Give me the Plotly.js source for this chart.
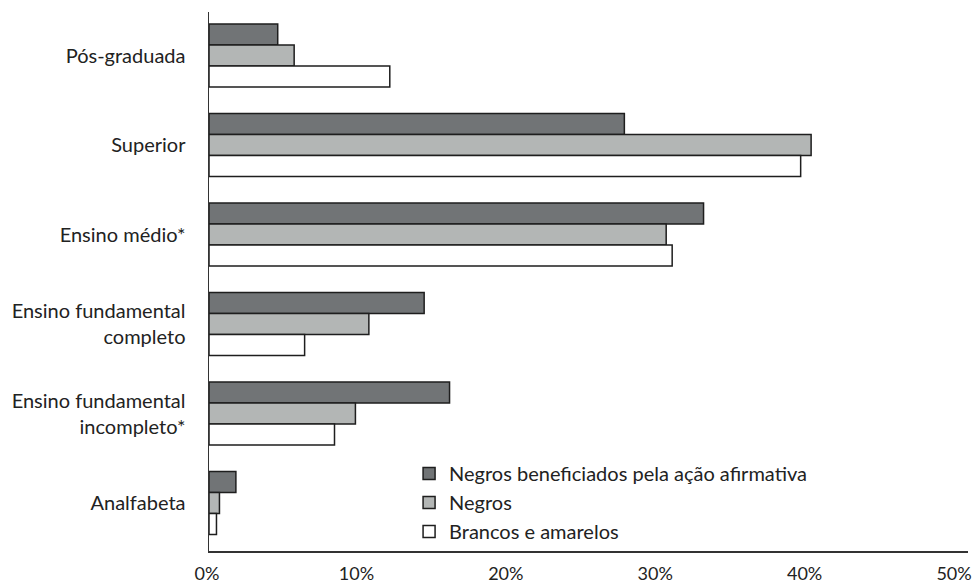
<!DOCTYPE html>
<html>
<head>
<meta charset="utf-8">
<script src="https://cdn.plot.ly/plotly-3.0.1.min.js"></script>
<style>html,body{margin:0;padding:0;background:#fff;}#chart{width:974px;height:586px;}</style>
</head>
<body>
<div id="chart"></div>
<script>
var categories = ["Pós-graduada", "Superior", "Ensino médio*", "Ensino fundamental<br>completo", "Ensino fundamental<br>incompleto*", "Analfabeta"];
var seriesNames = ["Negros beneficiados pela ação afirmativa", "Negros", "Brancos e amarelos"];
var negrosBeneficiados = [4.6, 27.8, 33.1, 14.4, 16.1, 1.8];
var negros = [5.7, 40.3, 30.6, 10.7, 9.8, 0.7];
var brancosAmarelos = [12.1, 39.6, 31.0, 6.4, 8.4, 0.5];
var tickValues = [0, 10, 20, 30, 40, 50];
var tickLabels = ["0%", "10%", "20%", "30%", "40%", "50%"];

var fills = ["#717476", "#b3b6b5", "#ffffff"];
var data = [negrosBeneficiados, negros, brancosAmarelos].map(function (vals, i) {
  return {
    type: "bar",
    orientation: "h",
    name: seriesNames[i],
    x: vals,
    y: categories,
    marker: { color: fills[i], line: { color: "#1e1e1e", width: 1.5 } },
    hoverinfo: "x+y"
  };
});

var font = "Lato, 'Open Sans', sans-serif";
var layout = {
  width: 974,
  height: 586,
  margin: { l: 209, r: 6, t: 12, b: 35 },
  paper_bgcolor: "#fff",
  plot_bgcolor: "#fff",
  barmode: "group",
  bargap: 0.296,
  bargroupgap: 0,
  font: { family: font, size: 20, color: "#222" },
  showlegend: true,
  legend: {
    x: 0.2636, y: 0.18, xanchor: "left", yanchor: "top",
    traceorder: "normal",
    font: { family: font, size: 20, color: "#222" },
    itemwidth: 30,
    tracegroupgap: 0,
    bgcolor: "rgba(0,0,0,0)"
  },
  xaxis: {
    range: [0, 50.8],
    tickvals: tickValues,
    ticktext: tickLabels,
    showgrid: false,
    zeroline: false,
    showline: true,
    linecolor: "#333",
    linewidth: 1.5,
    ticks: "",
    ticklabelstandoff: 6,
    ticklabeloverflow: "allow",
    ticklabelshift: -2,
    tickfont: { family: font, size: 18, color: "#222" },
    fixedrange: true
  },
  yaxis: {
    type: "category",
    range: [5.536, -0.486],
    showgrid: false,
    zeroline: false,
    showline: true,
    linecolor: "#333",
    linewidth: 1.5,
    ticks: "",
    ticklabelstandoff: 18,
    tickfont: { family: font, size: 20, color: "#222" },
    fixedrange: true
  }
};

Plotly.newPlot("chart", data, layout, { displayModeBar: false, staticPlot: true });
</script>
</body>
</html>
